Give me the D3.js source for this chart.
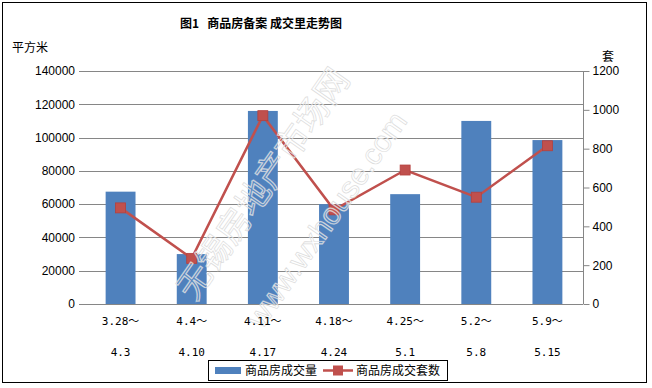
<!DOCTYPE html>
<html><head><meta charset="utf-8">
<script src="https://cdn.jsdelivr.net/npm/d3@7"></script>
<style>body{margin:0;background:#fff}svg{display:block}</style>
</head><body>
<script>
const categories = ["3.28～|4.3","4.4～|4.10","4.11～|4.17","4.18～|4.24","4.25～|5.1","5.2～|5.8","5.9～|5.15"];
const areaValues = [67500, 30000, 116000, 60000, 66000, 110000, 98500];
const unitValues = [495, 235, 970, 485, 690, 550, 815];
const leftTicks = [0,20000,40000,60000,80000,100000,120000,140000];
const rightTicks = [0,200,400,600,800,1000,1200];
const titleText = "图1   商品房备案 成交里走势图";
const seriesNames = ["商品房成交量","商品房成交套数"];

const W=652,H=388;
const svg=d3.select("body").append("svg").attr("width",W).attr("height",H);
svg.append("rect").attr("x",2.5).attr("y",2.5).attr("width",644).attr("height",380).attr("fill","#fff").attr("stroke","#000").attr("stroke-width",1);

const L=85,R=583,T=71,B=304;
const x=d3.scaleBand().domain(categories).range([L,R]).paddingInner(0.58).paddingOuter(0.29);
const yL=d3.scaleLinear().domain([0,140000]).range([B,T]);
const yR=d3.scaleLinear().domain([0,1200]).range([B,T]);
const font="'Liberation Sans','Noto Sans CJK SC',sans-serif";
const cjk="'Noto Sans CJK SC',sans-serif";
const grey="#868686";

// gridlines
svg.append("g").selectAll("line").data(leftTicks).join("line")
  .attr("x1",L-6).attr("x2",R).attr("y1",d=>Math.round(yL(d))+0.5).attr("y2",d=>Math.round(yL(d))+0.5)
  .attr("stroke",grey).attr("stroke-width",1);

// left axis labels
const gl=svg.append("g").attr("transform",`translate(${L},0)`).call(d3.axisLeft(yL).tickValues(leftTicks).tickSize(0).tickPadding(10).tickFormat(d3.format("d")));
gl.select(".domain").remove();
gl.selectAll("text").attr("font-family",font).attr("font-size",12).attr("fill","#000");

// right axis
const gr=svg.append("g").attr("transform",`translate(${R+0.5},0)`).call(d3.axisRight(yR).tickValues(rightTicks).tickSize(6).tickPadding(3).tickFormat(d3.format("d")));
gr.select(".domain").attr("stroke",grey).attr("d",`M0,${T}V${B}`);
gr.selectAll(".tick line").attr("stroke",grey);
gr.selectAll("text").attr("font-family",font).attr("font-size",12).attr("fill","#000");

// bars
svg.append("g").selectAll("rect").data(areaValues).join("rect")
  .attr("x",(d,i)=>x(categories[i])).attr("width",x.bandwidth())
  .attr("y",d=>yL(d)).attr("height",d=>B-yL(d)).attr("fill","#4F81BD");

// bottom axis line
svg.append("line").attr("x1",L).attr("x2",R).attr("y1",B+0.5).attr("y2",B+0.5).attr("stroke",grey);

// line
const cx=(i)=>x(categories[i])+x.bandwidth()/2;
svg.append("path").datum(unitValues).attr("fill","none").attr("stroke","#C0504D").attr("stroke-width",2.5)
  .attr("d",d3.line().x((d,i)=>cx(i)).y(d=>yR(d)));
svg.append("g").selectAll("rect").data(unitValues).join("rect")
  .attr("x",(d,i)=>cx(i)-5).attr("y",d=>yR(d)-5).attr("width",10).attr("height",10)
  .attr("fill","#C0504D").attr("stroke","#B5403D").attr("stroke-width",0.8);

// watermark (faint outline over the chart)
const wm=svg.append("g").attr("fill","none").attr("stroke","#fff").attr("stroke-opacity",0.9).attr("stroke-width",1.6).attr("font-family",cjk);
const wm2=svg.append("g").attr("fill","none").attr("stroke","#dcdcdc").attr("stroke-width",0.7).attr("font-family",cjk);
[[wm,1],[wm2,0]].forEach(([g])=>{
  g.append("text").attr("transform","translate(195,302) rotate(-55)").attr("font-size",34).text("无锡房地产市场网");
  g.append("text").attr("transform","translate(262,330) rotate(-55)").attr("font-size",30).attr("font-family",font).text("www.wxhouse.com");
});
wm.attr("stroke-opacity",0.35);

// x labels
const xl=svg.append("g").attr("font-family","'DejaVu Sans Mono','Noto Sans CJK SC',monospace").attr("font-size",11).attr("text-anchor","middle");
categories.forEach((c,i)=>{
  const [a,b]=c.split("|");
  xl.append("text").attr("x",cx(i)).attr("y",325).text(a);
  xl.append("text").attr("x",cx(i)).attr("y",356).text(b);
});

// title and axis titles
svg.append("text").attr("x",261).attr("y",28).attr("text-anchor","middle").attr("font-family",cjk).attr("font-weight","bold").attr("font-size",12).style("white-space","pre").text(titleText);
svg.append("text").attr("x",12).attr("y",52).attr("font-family",cjk).attr("font-size",12).text("平方米");
svg.append("text").attr("x",602).attr("y",61).attr("font-family",cjk).attr("font-size",12).text("套");

// legend
const lg=svg.append("g");
lg.append("rect").attr("x",208.5).attr("y",360.5).attr("width",239).attr("height",20).attr("fill","#fff").attr("stroke","#000");
lg.append("rect").attr("x",215).attr("y",367).attr("width",26).attr("height",7).attr("fill","#4F81BD");
lg.append("text").attr("x",245).attr("y",375).attr("font-family",cjk).attr("font-size",12).text(seriesNames[0]);
lg.append("line").attr("x1",323).attr("x2",353).attr("y1",370.5).attr("y2",370.5).attr("stroke","#C0504D").attr("stroke-width",2.5);
lg.append("rect").attr("x",333).attr("y",365.5).attr("width",10).attr("height",10).attr("fill","#C0504D");
lg.append("text").attr("x",356).attr("y",375).attr("font-family",cjk).attr("font-size",12).text(seriesNames[1]);
</script>
</body></html>
